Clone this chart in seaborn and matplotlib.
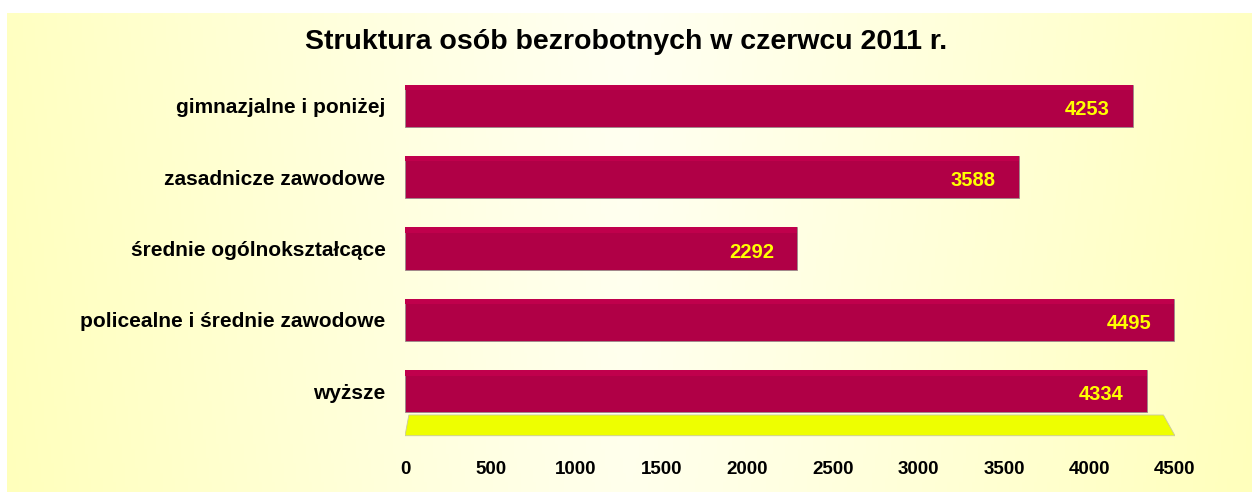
import numpy as np
import matplotlib
matplotlib.use("Agg")
import matplotlib.pyplot as plt
import seaborn as sns

# data
categories = [
    "gimnazjalne i poniżej",
    "zasadnicze zawodowe",
    "średnie ogólnokształcące",
    "policealne i średnie zawodowe",
    "wyższe",
]
values = [4253, 3588, 2292, 4495, 4334]
x_ticks = [0, 500, 1000, 1500, 2000, 2500, 3000, 3500, 4000, 4500]
title = "Struktura osób bezrobotnych w czerwcu 2011 r."

sns.set_style("white")
plt.rcParams["font.family"] = ["Liberation Sans", "DejaVu Sans"]
plt.rcParams["text.color"] = "black"
plt.rcParams["xtick.color"] = "black"
plt.rcParams["ytick.color"] = "black"

W, H = 1252, 492
fig = plt.figure(figsize=(W / 100, H / 100), dpi=100, facecolor="white")

# pale yellow gradient background (yellower at the sides)
bg = fig.add_axes([7 / W, 0, 1 - 7 / W, 1 - 13 / H])
t = np.linspace(0, 1, 400)
yy = np.linspace(0, 1, 100)[:, None]
blue = 242 - 48 * np.abs(2 * t[None, :] - 1) ** 1.1 - 6 * yy
img = np.dstack([np.ones_like(blue), np.ones_like(blue), blue / 255.0])
bg.imshow(img, aspect="auto", extent=[0, 1, 0, 1], origin="upper")
bg.set_axis_off()

# main axes
left, right = 405 / W, 1175 / W
top_px, bot_px = 52, 440
ax = fig.add_axes([left, 1 - bot_px / H, right - left, (bot_px - top_px) / H])
ax.set_facecolor("none")

bar_color = "#B00046"
sns.barplot(x=values, y=categories, orient="h", color=bar_color,
            saturation=1, width=0.59, edgecolor="#9a8a8a", linewidth=0.6,
            ax=ax, zorder=3)

ax.set_xlim(0, 4500)
ax.set_ylim(4.68, -0.75)

# light top face for a 3D look
for p in ax.patches[:len(values)]:
    h = p.get_height()
    ax.add_patch(plt.Rectangle((p.get_x(), p.get_y()), p.get_width(), h * 0.13,
                               facecolor="#C0004C", edgecolor="none", zorder=4))

# yellow floor
x0, x1 = ax.get_xlim()
ax.fill([x0, x0 + 0.005 * x1, x1 * 0.985, x1],
        [4.62, 4.33, 4.33, 4.62], color="#EEFF00",
        edgecolor="#c8c8a0", linewidth=0.6, zorder=2)

# value labels
for i, v in enumerate(values):
    ax.text(v - 135, i + 0.05, str(v), ha="right", va="center",
            color="#FFFF00", fontsize=14.5, fontweight="bold", zorder=5)

ax.set_xticks(x_ticks)
ax.set_xticklabels([str(v) for v in x_ticks], fontsize=13.5, fontweight="bold")
ax.tick_params(axis="x", length=0, pad=15)
ax.tick_params(axis="y", length=0, pad=14)
for lab in ax.get_yticklabels():
    lab.set_fontsize(15)
    lab.set_fontweight("bold")
ax.set_xlabel("")
ax.set_ylabel("")
sns.despine(ax=ax, left=True, bottom=True)

fig.text(0.5, 1 - 42 / H, title, ha="center", va="center",
         fontsize=20.5, fontweight="bold")

fig.savefig("out.png", dpi=100, facecolor="white")
